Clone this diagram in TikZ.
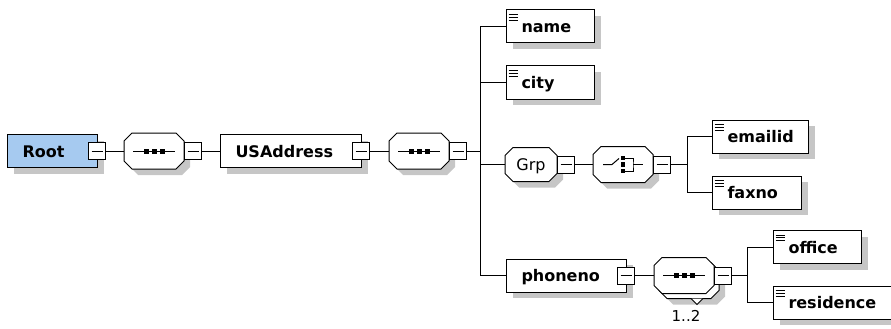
\documentclass[tikz,border=0pt]{standalone}
\usepackage{fontspec}
\setmainfont{DejaVu Sans}
\usetikzlibrary{positioning,shadows}

\definecolor{rootblue}{RGB}{166,202,240}
\definecolor{shadowgray}{RGB}{198,198,198}
\newcommand\dfont{\fontsize{16pt}{19pt}\selectfont}

\makeatletter
\pgfdeclareshape{octo}{%
  \inheritsavedanchors[from=rectangle]%
  \inheritanchorborder[from=rectangle]%
  \inheritanchor[from=rectangle]{center}%
  \inheritanchor[from=rectangle]{north}%
  \inheritanchor[from=rectangle]{south}%
  \inheritanchor[from=rectangle]{east}%
  \inheritanchor[from=rectangle]{west}%
  \inheritanchor[from=rectangle]{north west}%
  \inheritanchor[from=rectangle]{north east}%
  \inheritanchor[from=rectangle]{south west}%
  \inheritanchor[from=rectangle]{south east}%
  \backgroundpath{%
    \southwest \edef\oxa{\the\pgf@x}\edef\oya{\the\pgf@y}%
    \northeast \edef\oxb{\the\pgf@x}\edef\oyb{\the\pgf@y}%
    \pgfpathmoveto{\pgfpoint{\oxa+8pt}{\oyb}}%
    \pgfpathlineto{\pgfpoint{\oxb-8pt}{\oyb}}%
    \pgfpathlineto{\pgfpoint{\oxb}{\oyb-8pt}}%
    \pgfpathlineto{\pgfpoint{\oxb}{\oya+8pt}}%
    \pgfpathlineto{\pgfpoint{\oxb-8pt}{\oya}}%
    \pgfpathlineto{\pgfpoint{\oxa+8pt}{\oya}}%
    \pgfpathlineto{\pgfpoint{\oxa}{\oya+8pt}}%
    \pgfpathlineto{\pgfpoint{\oxa}{\oyb-8pt}}%
    \pgfpathclose
  }%
}
\makeatother

\tikzset{
  shade/.style={general shadow={fill=shadowgray,shadow xshift=6pt,shadow yshift=-6pt}},
  elem/.style={draw,fill=white,shade,anchor=west,inner xsep=15pt,minimum height=33pt,
    text height=12pt,text depth=0pt,align=left,font={\dfont\bfseries}},
  leaf/.style={elem,path picture={
    \foreach \k in {4.5pt,7.3pt,10.1pt}
      \draw ([shift={(2pt,-\k)}]path picture bounding box.north west) -- ++(9pt,0pt);}},
  minus/.style={draw,fill=white,minimum size=17pt,inner sep=0pt,path picture={
    \draw ([xshift=3pt]path picture bounding box.west) -- ([xshift=-3pt]path picture bounding box.east);}},
  octbox/.style={shape=octo,draw,fill=white,anchor=west,inner sep=0pt,
    minimum width=59pt,minimum height=35pt},
  seqsym/.style={octbox,path picture={
    \draw ([xshift=9pt]path picture bounding box.west) -- ([xshift=-9pt]path picture bounding box.east);
    \foreach \d in {-8pt,0pt,8pt}
      \fill[black] ([xshift=\d]path picture bounding box.center) +(-2.5pt,-2.5pt) rectangle +(2.5pt,2.5pt);}},
  seq/.style={seqsym,shade},
  seqmulti/.style={seqsym,
    general shadow={fill=shadowgray,shadow xshift=11pt,shadow yshift=-11pt},
    general shadow={fill=white,draw=black,shadow xshift=5pt,shadow yshift=-5pt}},
  choice/.style={octbox,shade,path picture={
    \draw ([xshift=-20pt]path picture bounding box.center) -- ([xshift=-11pt]path picture bounding box.center)
      -- ([shift={(-4pt,6pt)}]path picture bounding box.center);
    \foreach \d in {-6.5pt,0pt,6.5pt}
      \fill[black] ([yshift=\d]path picture bounding box.center) +(-2.3pt,-2.3pt) rectangle +(2.3pt,2.3pt);
    \draw ([shift={(2pt,6.5pt)}]path picture bounding box.center) -| ([xshift=10pt]path picture bounding box.center)
      |- ([shift={(2pt,-6.5pt)}]path picture bounding box.center)
      ([xshift=10pt]path picture bounding box.center) -- ([xshift=20pt]path picture bounding box.center);}},
  grp/.style={octbox,shade,minimum width=51pt,minimum height=33pt,text height=12pt,text depth=0pt,font=\dfont}
}

\begin{document}
\begin{tikzpicture}[x=1pt,y=-1pt,line width=1pt,font=\dfont]
\useasboundingbox (0,0) rectangle (891,329);

\node[elem,fill=rootblue,text width=60pt] (root) at (7,151) {Root};
\node[minus] (rootm) at ([xshift=-1pt]root.east) {};
\node[seq,right=18pt of rootm] (seq1) {};
\node[minus,right=0pt of seq1] (seq1m) {};
\node[elem,text width=111pt,right=18pt of seq1m] (usaddr) {USAddress};
\node[minus] (usaddrm) at ([xshift=-1pt]usaddr.east) {};
\node[seq,right=19pt of usaddrm] (seq2) {};
\node[minus,right=0pt of seq2] (seq2m) {};
\coordinate (bus1) at (480,151);

\node[leaf,text width=58pt] (name) at (506,26.5) {name};
\node[leaf,text width=58pt] (city) at (506,82.5) {city};
\node[grp] (grp) at (505,164.5) {Grp};
\node[minus,right=0pt of grp] (grpm) {};
\node[choice,right=18pt of grpm] (choice) {};
\node[minus,right=0pt of choice] (choicem) {};
\coordinate (bus2) at (687,164.5);
\node[leaf,text width=66pt] (emailid) at (712,136.5) {emailid};
\node[leaf,text width=59pt] (faxno) at (712,192.5) {faxno};

\node[elem,text width=90pt] (phoneno) at (506,275.5) {phoneno};
\node[minus] (phonenom) at ([xshift=-1pt]phoneno.east) {};
\node[seqmulti,right=19pt of phonenom] (seq3) {};
\node[minus,right=0pt of seq3] (seq3m) {};
\draw[fill=white] ([shift={(7,5)}]seq3.south) -- ([shift={(13,11)}]seq3.south) -- ([shift={(19,5)}]seq3.south);
\node[font=\fontsize{15pt}{17pt}\selectfont] (mult) at (686,316) {1..2};
\coordinate (bus3) at (747,275.5);
\node[leaf,text width=58pt] (office) at (773,247) {office};
\node[leaf,text width=100pt] (residence) at (773,302.5) {residence};

\draw (rootm) -- (seq1);
\draw (seq1m) -- (usaddr);
\draw (usaddrm) -- (seq2);
\draw (seq2m) -- (bus1);
\foreach \n in {name,city,grp,phoneno} \draw (\n.west) -| (bus1);
\draw (grpm) -- (choice);
\draw (choicem) -- (bus2);
\foreach \n in {emailid,faxno} \draw (\n.west) -| (bus2);
\draw (phonenom) -- (seq3);
\draw (seq3m) -- (bus3);
\foreach \n in {office,residence} \draw (\n.west) -| (bus3);
\end{tikzpicture}
\end{document}
